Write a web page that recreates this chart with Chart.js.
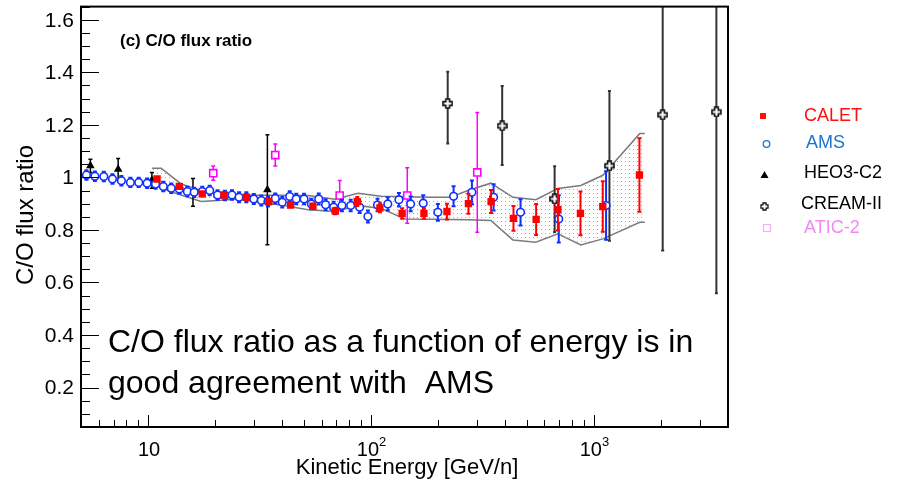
<!DOCTYPE html>
<html>
<head>
<meta charset="utf-8">
<script src="https://cdn.jsdelivr.net/npm/chart.js@4.4.1/dist/chart.umd.min.js"></script>
<style>
  html, body { margin: 0; padding: 0; background: #fff; }
</style>
</head>
<body>
<canvas id="c" width="899" height="487"></canvas>
<script>
// CALET (red squares)
const calE   = [10.97, 13.8, 17.5, 21.9, 27.6, 34.8, 43.6, 54.9, 69.2, 86.8, 109.7, 138, 172.9, 219.3, 273.7, 346, 436, 551, 690, 871, 1097, 1602];
const calR   = [0.994, 0.966, 0.937, 0.933, 0.924, 0.908, 0.895, 0.890, 0.872, 0.908, 0.884, 0.863, 0.863, 0.870, 0.900, 0.908, 0.844, 0.840, 0.877, 0.863, 0.889, 1.009];
const calErr = [0.006, 0.006, 0.006, 0.006, 0.007, 0.008, 0.009, 0.010, 0.012, 0.017, 0.017, 0.020, 0.020, 0.030, 0.038, 0.044, 0.047, 0.059, 0.079, 0.083, 0.096, 0.140];

// AMS (blue open circles)
const amsE   = [5.29, 5.77, 6.33, 6.92, 7.59, 8.33, 9.08, 9.90, 10.8, 11.7, 12.7, 13.8, 15.0, 16.1, 17.5, 18.9, 20.5, 22.1, 23.8, 25.6,
                27.6, 29.8, 32.2, 34.5, 37.2, 40.0, 43.2, 46.2, 50.1, 54.0, 58.3, 62.6, 68.0, 74.1, 81.1, 89.0, 96.9, 107, 119, 133.5,
                150.7, 171.6, 199.6, 234.8, 283.8, 355, 469, 696, 1135];
const amsR   = [1.009, 1.004, 1.003, 0.994, 0.987, 0.981, 0.981, 0.978, 0.975, 0.965, 0.959, 0.956, 0.946, 0.943, 0.946, 0.950, 0.933, 0.931, 0.933, 0.924,
                0.924, 0.918, 0.912, 0.908, 0.920, 0.905, 0.927, 0.918, 0.918, 0.899, 0.918, 0.896, 0.886, 0.893, 0.893, 0.886, 0.851, 0.895, 0.899, 0.915,
                0.899, 0.902, 0.867, 0.928, 0.943, 0.924, 0.867, 0.842, 0.893];
const amsErr = [0.018, 0.018, 0.018, 0.018, 0.018, 0.018, 0.018, 0.018, 0.018, 0.018, 0.018, 0.018, 0.018, 0.018, 0.018, 0.018, 0.018, 0.018, 0.018, 0.019,
                0.019, 0.019, 0.019, 0.019, 0.019, 0.020, 0.020, 0.020, 0.020, 0.020, 0.021, 0.021, 0.021, 0.022, 0.022, 0.022, 0.023, 0.024, 0.025, 0.026,
                0.028, 0.030, 0.032, 0.038, 0.045, 0.050, 0.050, 0.090, 0.130];

// HEO3-C2 (black triangles)
const heoE   = [5.51, 7.34, 10.4, 15.9, 34.3];
const heoR   = [1.044, 1.031, 0.989, 0.943, 0.953];
const heoErr = [0.025, 0.041, 0.030, 0.053, 0.209];

// CREAM-II (open crosses)
const creamE     = [221, 388, 667, 1175, 2037, 3548];
const creamR     = [1.281, 1.196, 0.918, 1.044, 1.238, 1.249];
const creamErrLo = [0.152, 0.149, 0.126, 0.285, 0.516, 0.690];
const creamErrHi = [0.121, 0.152, 0.124, 0.285, 0.516, 0.690];

// ATIC-2 (magenta open squares)
const aticE   = [19.6, 37.2, 72.4, 145.5, 299.9];
const aticR   = [1.016, 1.085, 0.931, 0.931, 1.019];
const aticErr = [0.027, 0.042, 0.057, 0.106, 0.228];

// CALET systematic band
const bandE  = [10.42, 11.44, 14.06, 17.29, 21.26, 25.33, 34.5, 39.5, 52.2, 69.0, 87.4, 110.9, 142.1, 185.8, 226.1, 272.3, 345.1, 433.4, 549.2, 689.7, 874.6, 1097.5, 1608, 1693];
const bandHi = [1.035, 1.035, 0.975, 0.950, 0.933, 0.932, 0.932, 0.932, 0.931, 0.917, 0.940, 0.928, 0.926, 0.924, 0.924, 0.950, 0.978, 0.924, 0.915, 0.958, 0.969, 1.008, 1.167, 1.167];
const bandLo = [0.981, 0.958, 0.933, 0.908, 0.913, 0.918, 0.901, 0.895, 0.877, 0.870, 0.893, 0.882, 0.842, 0.841, 0.840, 0.839, 0.836, 0.762, 0.753, 0.785, 0.743, 0.766, 0.829, 0.829];

// axes
const yTicks = [0.2, 0.4, 0.6, 0.8, 1.0, 1.2, 1.4, 1.6];
const yTickLabels = ["0.2", "0.4", "0.6", "0.8", "1", "1.2", "1.4", "1.6"];
const xTicks = [10, 100, 1000];
const xTickBase = ["10", "10", "10"];
const xTickExp = ["", "2", "3"];

const legendNames = ["CALET", "AMS", "HEO3-C2", "CREAM-II", "ATIC-2"];
const legendColors = ["#ff1010", "#1d74d0", "#000000", "#000000", "#f08af0"];

const FONT = '"Liberation Sans", Arial, Helvetica, sans-serif';

const ctx = document.getElementById("c").getContext("2d");

function pts(E, R) {
  return E.map((e, i) => ({ x: e, y: R[i] }));
}

// dotted fill for the band
function dotPattern() {
  const c = document.createElement("canvas");
  c.width = 4; c.height = 4;
  const g = c.getContext("2d");
  g.fillStyle = "#ababab";
  g.fillRect(1, 1, 1, 1);
  return ctx.createPattern(c, "repeat");
}

// hollow plus marker
function plusMarker(size, lw) {
  const c = document.createElement("canvas");
  c.width = size; c.height = size;
  const g = c.getContext("2d");
  const a = size / 2, t = size * 0.17, l = size / 2 - 1;
  g.beginPath();
  g.moveTo(a - t, a - l); g.lineTo(a + t, a - l); g.lineTo(a + t, a - t);
  g.lineTo(a + l, a - t); g.lineTo(a + l, a + t); g.lineTo(a + t, a + t);
  g.lineTo(a + t, a + l); g.lineTo(a - t, a + l); g.lineTo(a - t, a + t);
  g.lineTo(a - l, a + t); g.lineTo(a - l, a - t); g.lineTo(a - t, a - t);
  g.closePath();
  g.fillStyle = "#fff";
  g.fill();
  g.lineWidth = lw;
  g.strokeStyle = "#111";
  g.stroke();
  return c;
}

// vertical error bars, drawn just before each dataset's markers
const errorBars = {
  id: "errorBars",
  beforeDatasetDraw(chart, args) {
    const ds = chart.data.datasets[args.index];
    if (!ds.errLo) return;
    const c = chart.ctx, ys = chart.scales.y, a = chart.chartArea;
    c.save();
    c.beginPath();
    c.rect(a.left, a.top, a.right - a.left, a.bottom - a.top);
    c.clip();
    c.strokeStyle = ds.errColor;
    c.lineWidth = ds.errWidth;
    args.meta.data.forEach((el, i) => {
      const v = ds.data[i].y;
      const top = ys.getPixelForValue(v + ds.errHi[i]);
      const bot = ys.getPixelForValue(v - ds.errLo[i]);
      c.beginPath();
      c.moveTo(el.x, top); c.lineTo(el.x, bot);
      c.moveTo(el.x - ds.errCap, top); c.lineTo(el.x + ds.errCap, top);
      c.moveTo(el.x - ds.errCap, bot); c.lineTo(el.x + ds.errCap, bot);
      c.stroke();
    });
    c.restore();
  }
};

// ROOT-like frame, inner ticks, labels, legend and texts
const decorations = {
  id: "decorations",
  afterDatasetsDraw(chart) {
    const c = chart.ctx, a = chart.chartArea;
    const xs = chart.scales.x, ys = chart.scales.y;
    c.save();
    c.strokeStyle = "#000";
    c.lineWidth = 1;
    // y ticks
    for (let k = 1; k <= 33; k++) {
      const v = k * 0.05;
      const py = Math.round(ys.getPixelForValue(v)) + 0.5;
      const len = k % 4 === 0 ? 18 : 9;
      c.beginPath(); c.moveTo(a.left, py); c.lineTo(a.left + len, py); c.stroke();
    }
    // x ticks
    for (let d = 0; d <= 3; d++) {
      for (let m = 1; m <= 9; m++) {
        const v = m * Math.pow(10, d);
        if (v <= 5 || v >= 4000) continue;
        const px = Math.round(xs.getPixelForValue(v)) + 0.5;
        const len = m === 1 ? 12 : 7;
        c.beginPath(); c.moveTo(px, a.bottom); c.lineTo(px, a.bottom - len); c.stroke();
      }
    }
    // frame
    c.lineWidth = 2;
    c.strokeRect(a.left, a.top, a.right - a.left, a.bottom - a.top);

    // tick labels
    c.fillStyle = "#000";
    c.font = "21px " + FONT;
    c.textAlign = "right";
    c.textBaseline = "middle";
    yTicks.forEach((v, i) => c.fillText(yTickLabels[i], 74, ys.getPixelForValue(v) + 1));
    xTicks.forEach((v, i) => {
      const px = xs.getPixelForValue(v);
      c.font = "20px " + FONT;
      c.textAlign = "center";
      c.textBaseline = "middle";
      const w = xTickExp[i] ? 8 : 0;
      c.fillText(xTickBase[i], px - w / 2 + 1, 450);
      if (xTickExp[i]) {
        const bw = c.measureText(xTickBase[i]).width;
        c.font = "13px " + FONT;
        c.textAlign = "left";
        c.fillText(xTickExp[i], px - w / 2 + 1 + bw / 2, 442);
      }
    });

    // axis titles
    c.font = "22px " + FONT;
    c.textAlign = "center";
    c.textBaseline = "middle";
    c.fillText("Kinetic Energy [GeV/n]", 407, 468);
    c.save();
    c.translate(26, 215);
    c.rotate(-Math.PI / 2);
    c.font = "24px " + FONT;
    c.fillText("C/O flux ratio", 0, 0);
    c.restore();

    // panel title
    c.font = "bold 17px " + FONT;
    c.textAlign = "left";
    c.fillText("(c) C/O flux ratio", 120, 41);

    // annotation
    c.font = "32px " + FONT;
    c.fillText("C/O flux ratio as a function of energy is in", 108, 343);
    c.fillText("good agreement with  AMS", 108, 384);

    // legend
    const ly = [116, 143, 173, 204, 228];
    const lx = [804, 806, 804, 801, 804];
    c.font = "18px " + FONT;
    legendNames.forEach((n, i) => {
      c.fillStyle = legendColors[i];
      c.fillText(n, lx[i], ly[i]);
    });
    // legend markers
    c.fillStyle = "#ff1010";
    c.fillRect(760, 113, 6, 6);
    c.strokeStyle = "#1d74d0";
    c.lineWidth = 1.3;
    c.beginPath(); c.arc(766.5, 144, 3.3, 0, 2 * Math.PI); c.stroke();
    c.fillStyle = "#000";
    c.beginPath(); c.moveTo(764.5, 171); c.lineTo(768.5, 178); c.lineTo(760.5, 178); c.closePath(); c.fill();
    c.drawImage(plusMarker(9, 1.3), 760, 202);
    c.strokeStyle = "#f4b0f4";
    c.lineWidth = 1.2;
    c.strokeRect(763.5, 224.5, 7, 7);
    c.restore();
  }
};

new Chart(ctx, {
  type: "scatter",
  data: {
    datasets: [
      {
        label: "CALET",
        data: pts(calE, calR),
        pointStyle: "rect",
        pointRadius: 5.2,
        backgroundColor: "#ff0000",
        borderColor: "#ff0000",
        borderWidth: 0,
        errLo: calErr, errHi: calErr, errColor: "#ff0000", errWidth: 2, errCap: 2
      },
      {
        label: "AMS",
        data: pts(amsE, amsR),
        pointStyle: "circle",
        pointRadius: 3.8,
        backgroundColor: "#ffffff",
        borderColor: "#1030ff",
        borderWidth: 1.6,
        errLo: amsErr, errHi: amsErr, errColor: "#1030ff", errWidth: 2, errCap: 2
      },
      {
        label: "HEO3-C2",
        data: pts(heoE, heoR),
        pointStyle: "triangle",
        pointRadius: 5,
        backgroundColor: "#000000",
        borderColor: "#000000",
        borderWidth: 0,
        errLo: heoErr, errHi: heoErr, errColor: "#000000", errWidth: 1.5, errCap: 2
      },
      {
        label: "CREAM-II",
        data: pts(creamE, creamR),
        pointStyle: plusMarker(11, 1.6),
        pointRadius: 5,
        errLo: creamErrLo, errHi: creamErrHi, errColor: "#333333", errWidth: 2, errCap: 1.5
      },
      {
        label: "ATIC-2",
        data: pts(aticE, aticR),
        pointStyle: "rect",
        pointRadius: 5,
        backgroundColor: "#ffffff",
        borderColor: "#ff00ff",
        borderWidth: 1.6,
        errLo: aticErr, errHi: aticErr, errColor: "#ff00ff", errWidth: 1.5, errCap: 2
      },
      {
        label: "band high",
        data: pts(bandE, bandHi),
        showLine: true,
        pointRadius: 0,
        borderColor: "#7a7a7a",
        borderWidth: 1.5,
        tension: 0,
        backgroundColor: dotPattern(),
        fill: "+1"
      },
      {
        label: "band low",
        data: pts(bandE, bandLo),
        showLine: true,
        pointRadius: 0,
        borderColor: "#7a7a7a",
        borderWidth: 1.5,
        tension: 0,
        fill: false
      }
    ]
  },
  options: {
    responsive: false,
    animation: false,
    events: [],
    layout: { padding: { left: 81, right: 171, top: 4, bottom: 60 } },
    scales: {
      x: { type: "logarithmic", min: 5, max: 4000, display: false },
      y: { type: "linear", min: 0.05, max: 1.65, display: false }
    },
    plugins: {
      legend: { display: false },
      tooltip: { enabled: false }
    }
  },
  plugins: [errorBars, decorations]
});
</script>
</body>
</html>
